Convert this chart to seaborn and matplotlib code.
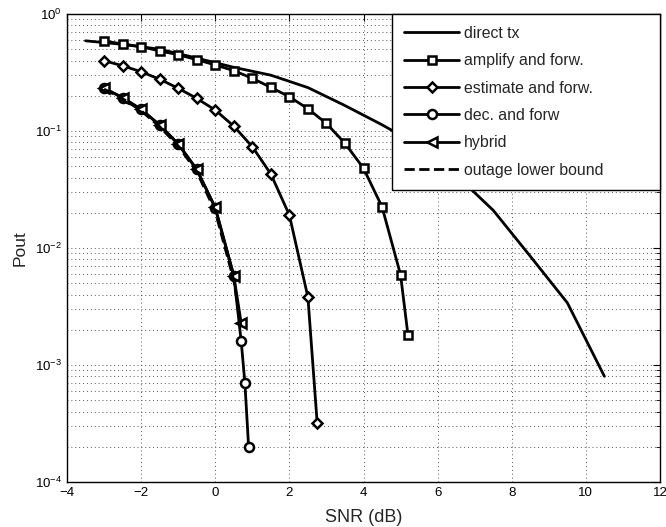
import numpy as np
import pandas as pd
import matplotlib
matplotlib.use("Agg")
import matplotlib.pyplot as plt
import seaborn as sns
from matplotlib.ticker import LogLocator, MultipleLocator, NullFormatter

# ---- data ----
direct_snr = [-3.5, -2.5, -1.5, -0.5, 0.5, 1.5, 2.5, 3.5, 4.5, 5.5, 6.5, 7.5, 8.5, 9.5, 10.5]
direct_p = [0.59, 0.55, 0.50, 0.42, 0.35, 0.30, 0.235, 0.165, 0.113, 0.075, 0.042, 0.021, 0.0085, 0.0034, 0.0008]

af_snr = [-3, -2.5, -2, -1.5, -1, -0.5, 0, 0.5, 1, 1.5, 2, 2.5, 3, 3.5, 4, 4.5, 5, 5.2]
af_p = [0.588, 0.554, 0.526, 0.483, 0.449, 0.407, 0.367, 0.328, 0.282, 0.236, 0.196, 0.155,
        0.116, 0.0785, 0.048, 0.0225, 0.0059, 0.0018]

ef_snr = [-3, -2.5, -2, -1.5, -1, -0.5, 0, 0.5, 1, 1.5, 2, 2.5, 2.75]
ef_p = [0.399, 0.361, 0.321, 0.277, 0.232, 0.190, 0.151, 0.110, 0.0734, 0.0429, 0.0191, 0.0038, 0.00032]

df_snr = [-3, -2.5, -2, -1.5, -1, -0.5, 0, 0.5, 0.7, 0.8, 0.9]
df_p = [0.232, 0.193, 0.153, 0.1125, 0.0774, 0.047, 0.0220, 0.0058, 0.0016, 0.0007, 0.0002]

hy_snr = [-3, -2.5, -2, -1.5, -1, -0.5, 0, 0.5, 0.7]
hy_p = [0.232, 0.193, 0.153, 0.1125, 0.0774, 0.047, 0.0222, 0.0058, 0.00228]

lb_snr = [-3, -2.5, -2, -1.5, -1, -0.5, 0, 0.5, 0.7]
lb_p = [0.228, 0.189, 0.149, 0.109, 0.0745, 0.045, 0.0205, 0.0053, 0.0021]

labels = ["direct tx", "amplify and forw.", "estimate and forw.",
          "dec. and forw", "hybrid", "outage lower bound"]

series = [
    (labels[0], direct_snr, direct_p, None, "-"),
    (labels[1], af_snr, af_p, "s", "-"),
    (labels[2], ef_snr, ef_p, "D", "-"),
    (labels[3], df_snr, df_p, "o", "-"),
    (labels[4], hy_snr, hy_p, "<", "-"),
    (labels[5], lb_snr, lb_p, None, "--"),
]

sns.set_style("white")
plt.rcParams["font.family"] = ["Liberation Sans", "DejaVu Sans"]
plt.rcParams["axes.unicode_minus"] = True

fig = plt.figure(figsize=(6.66, 5.27), dpi=100)
ax = fig.add_axes([67 / 666, 1 - 482 / 527, (660 - 67) / 666, (482 - 14) / 527])

msizes = {"s": 5.5, "D": 5.5, "o": 6.5, "<": 7}
for name, xs, ys, mk, ls in series:
    df = pd.DataFrame({"SNR": xs, "Pout": ys})
    kw = dict(color="black", linewidth=2, linestyle=ls)
    if mk is not None:
        kw.update(marker=mk, markersize=msizes[mk], markerfacecolor="white",
                  markeredgecolor="black", markeredgewidth=1.8)
    sns.lineplot(data=df, x="SNR", y="Pout", ax=ax, label=name, sort=False,
                 estimator=None, **kw)

ax.set_yscale("log")
ax.set_xlim(-4, 12)
ax.set_ylim(1e-4, 1)
ax.xaxis.set_major_locator(MultipleLocator(2))
ax.yaxis.set_major_locator(LogLocator(base=10, numticks=10))
ax.yaxis.set_minor_locator(LogLocator(base=10, subs=np.arange(2, 10), numticks=20))
ax.yaxis.set_minor_formatter(NullFormatter())

ax.grid(True, which="major", axis="both", linestyle=(0, (1, 3)), color="#555555", linewidth=0.7)
ax.grid(True, which="minor", axis="y", linestyle=(0, (1, 3)), color="#555555", linewidth=0.7)

ax.tick_params(which="both", direction="in", top=True, right=True, labelsize=9.5,
               colors="black")
ax.tick_params(which="major", length=5, width=0.8)
ax.tick_params(which="minor", length=3, width=0.6)
for sp in ax.spines.values():
    sp.set_color("black")
    sp.set_linewidth(1.0)

ax.set_xlabel("SNR (dB)", fontsize=13, labelpad=7)
ax.set_ylabel("Pout", fontsize=12.5, labelpad=5)

x0 = (392 - 67) / 593
leg = ax.legend(loc="upper left", bbox_to_anchor=(x0, 0, 1 - x0, 1), mode="expand",
                fontsize=11.4, frameon=True, fancybox=False,
                framealpha=1, edgecolor="black", borderaxespad=0, handlelength=3.5,
                labelspacing=0.78, borderpad=0.75, handletextpad=0.3, numpoints=1)
leg.get_frame().set_linewidth(1.0)

fig.savefig("out.png", dpi=100)
